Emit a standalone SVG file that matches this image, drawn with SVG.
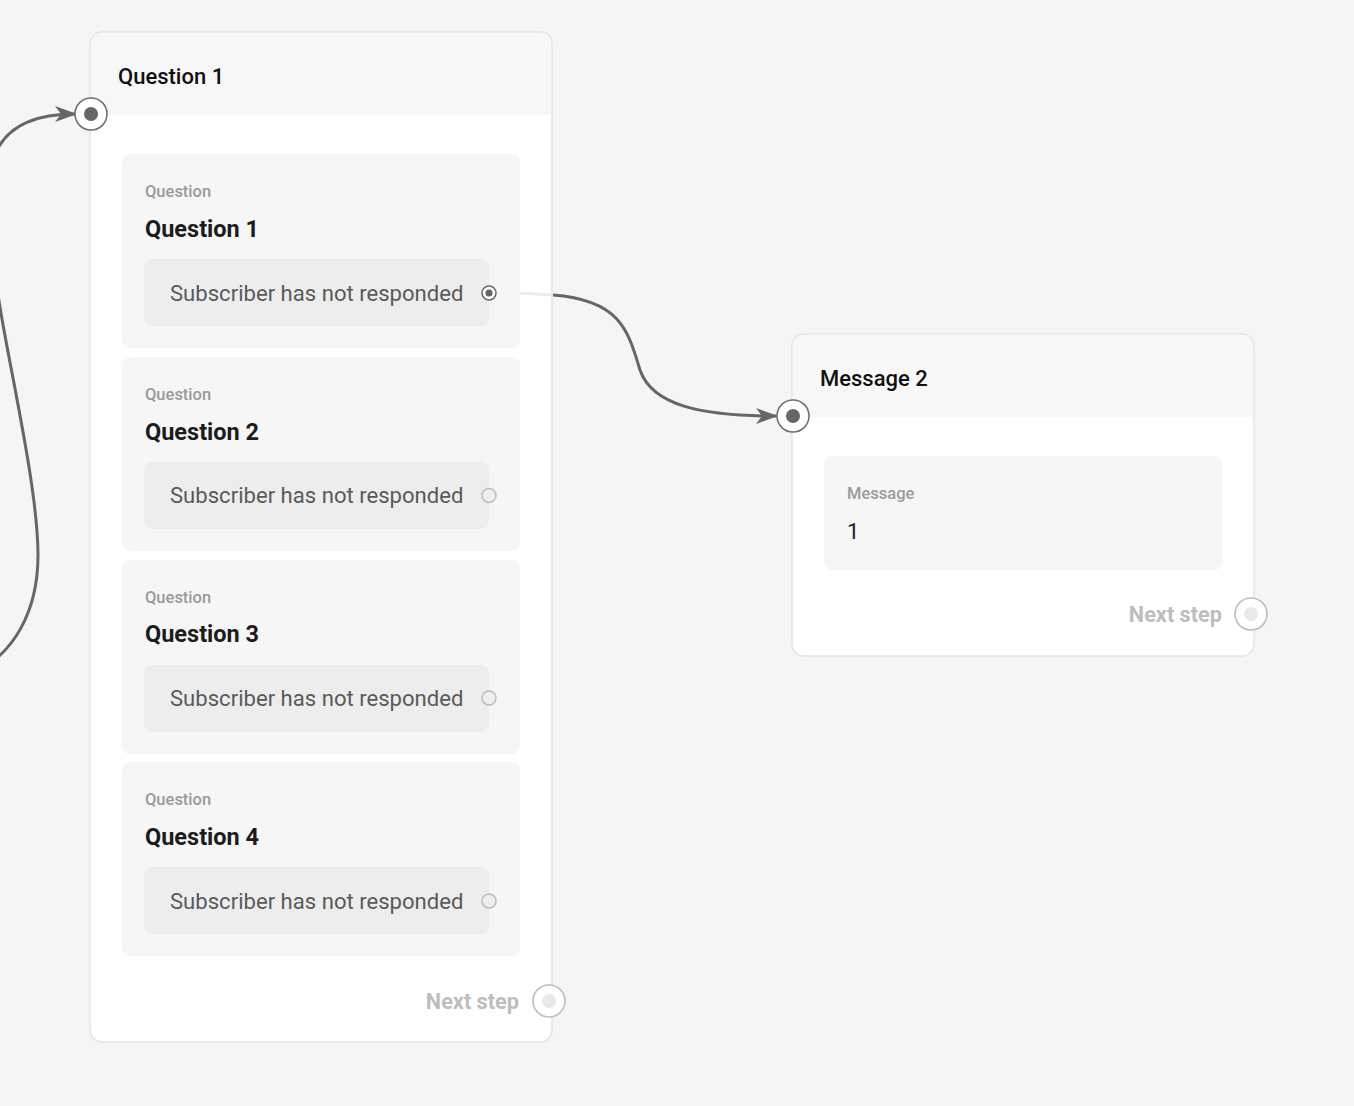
<svg xmlns="http://www.w3.org/2000/svg" width="1354" height="1106" viewBox="0 0 1354 1106">
<defs>
<style>
text{font-family:Roboto,"Liberation Sans",sans-serif}
.node{fill:#ffffff;stroke:#e2e3e5;stroke-width:1.5}
.head{fill:#f7f7f7}
.card{fill:#f6f6f6}
.pill{fill:#ededed}
.ntitle{font-size:22px;font-weight:500;fill:#111}
.lbl{font-size:16.5px;font-weight:500;fill:#9a9a9a}
.qtitle{font-size:23.5px;font-weight:700;fill:#1c1c1c}
.opt{font-size:22.1px;fill:#5a5a5a}
.next{font-size:21.7px;font-weight:700;fill:#bdbdbd;text-anchor:end}
.msg{font-size:22px;fill:#222}
.pin{fill:#fff;stroke:#6f6f6f;stroke-width:1.6}
.pindot{fill:#666}
.pout{fill:#fff;stroke:#bdbdbd;stroke-width:1.6}
.poutdot{fill:#e9e9e9}
.edge{fill:none;stroke:#666;stroke-width:3}
</style>
<marker id="arr" viewBox="0 0 22 16" refX="20" refY="8" markerWidth="22" markerHeight="16" markerUnits="userSpaceOnUse" orient="auto">
<path d="M0,0 L22,8 L0,16 L6,8 Z" fill="#666"/>
</marker>
</defs>
<rect x="0" y="0" width="1354" height="1106" fill="#f4f5f7"/>

<g id="connectors">
<path class="edge" d="M-30,675 C15,655 38,610 38,555 C38,490 10,370 0,307 C-8,260 -14,190 -3,150 C10,124 40,114 75,114" marker-end="url(#arr)"/>
<path class="edge" d="M553,295 C620,300 628,330 640,370 C652,405 700,416 776,416" marker-end="url(#arr)"/>
</g>

<g id="node-question-1">
<rect class="node" x="90" y="32" width="462" height="1010" rx="12"/>
<path class="head" d="M102,32.8 H540 A11.2,11.2 0 0 1 551.2,44 V115 H90.8 V44 A11.2,11.2 0 0 1 102,32.8 Z"/>
<text class="ntitle" x="118" y="84">Question 1</text>
<line x1="520" y1="293" x2="553" y2="295" stroke="#ececec" stroke-width="3"/>

<g id="card-q1">
<rect class="card" x="122" y="154" width="398" height="194" rx="8"/>
<text class="lbl" x="145" y="197">Question</text>
<text class="qtitle" x="145" y="237">Question 1</text>
<rect class="pill" x="144" y="259" width="345" height="67" rx="8"/>
<text class="opt" x="170" y="301">Subscriber has not responded</text>
<circle cx="489" cy="293" r="7" fill="#fff" stroke="#666" stroke-width="1.5"/>
<circle cx="489" cy="293" r="3.6" fill="#666"/>
</g>
<g id="card-q2">
<rect class="card" x="122" y="357" width="398" height="194" rx="8"/>
<text class="lbl" x="145" y="400">Question</text>
<text class="qtitle" x="145" y="440">Question 2</text>
<rect class="pill" x="144" y="462" width="345" height="67" rx="8"/>
<text class="opt" x="170" y="503">Subscriber has not responded</text>
<circle cx="489" cy="495.5" r="7" fill="#eee" stroke="#bbb" stroke-width="1.5"/>
</g>
<g id="card-q3">
<rect class="card" x="122" y="560" width="398" height="194" rx="8"/>
<text class="lbl" x="145" y="603">Question</text>
<text class="qtitle" x="145" y="642">Question 3</text>
<rect class="pill" x="144" y="665" width="345" height="67" rx="8"/>
<text class="opt" x="170" y="706">Subscriber has not responded</text>
<circle cx="489" cy="698" r="7" fill="#eee" stroke="#bbb" stroke-width="1.5"/>
</g>
<g id="card-q4">
<rect class="card" x="122" y="762" width="398" height="194" rx="8"/>
<text class="lbl" x="145" y="805">Question</text>
<text class="qtitle" x="145" y="845">Question 4</text>
<rect class="pill" x="144" y="867" width="345" height="67" rx="8"/>
<text class="opt" x="170" y="909">Subscriber has not responded</text>
<circle cx="489" cy="901" r="7" fill="#eee" stroke="#bbb" stroke-width="1.5"/>
</g>

<text class="next" x="519" y="1008.5">Next step</text>
<circle class="pout" cx="549" cy="1001" r="16"/>
<circle class="poutdot" cx="549" cy="1001" r="7"/>
<circle class="pin" cx="91" cy="114" r="16"/>
<circle class="pindot" cx="91" cy="114" r="7"/>
</g>

<g id="node-message-2">
<rect class="node" x="792" y="334" width="462" height="322" rx="12"/>
<path class="head" d="M804,334.8 H1242 A11.2,11.2 0 0 1 1253.2,346 V417 H792.8 V346 A11.2,11.2 0 0 1 804,334.8 Z"/>
<text class="ntitle" x="820" y="386">Message 2</text>
<rect class="card" x="824" y="456" width="398" height="114" rx="8"/>
<text class="lbl" x="847" y="499">Message</text>
<text class="msg" x="847" y="539">1</text>
<text class="next" x="1222" y="622">Next step</text>
<circle class="pout" cx="1251" cy="614" r="16"/>
<circle class="poutdot" cx="1251" cy="614" r="7"/>
<circle class="pin" cx="793" cy="416" r="16"/>
<circle class="pindot" cx="793" cy="416" r="7"/>
</g>
</svg>
